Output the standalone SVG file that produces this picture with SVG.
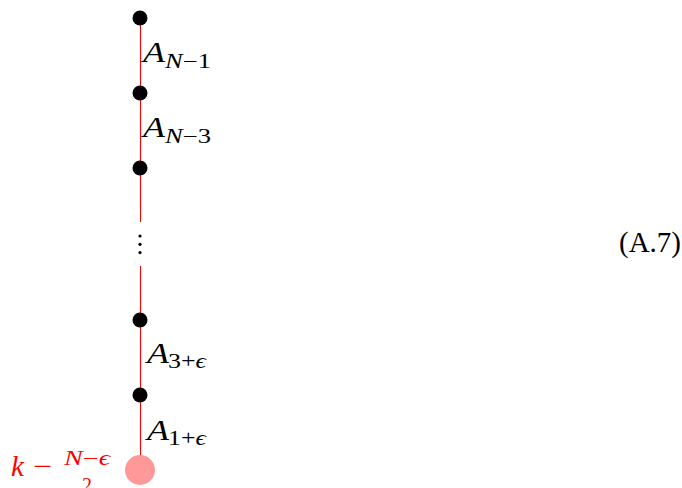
<svg xmlns="http://www.w3.org/2000/svg" width="682" height="488" viewBox="0 0 682 488" font-family="'Liberation Serif', 'Times New Roman', Times, serif">
<style>
.edge{stroke:#ff0000;stroke-width:1.1;fill:none}
.node{fill:#000}
text{font-family:"Liberation Serif","Times New Roman",Times,serif;fill:#000}
.big{font-size:29px}
.sub{font-size:20px}
.it{font-style:italic}
.red{fill:#ff0000}
</style>
<rect width="682" height="488" fill="#fff"/>
<g id="connectors">
<line class="edge" x1="140.5" y1="18" x2="140.5" y2="222"/>
<line class="edge" x1="140.5" y1="266" x2="140.5" y2="470"/>
</g>
<g id="n1"><circle class="node" cx="140" cy="18" r="7.5"/></g>
<g id="n2"><circle class="node" cx="140" cy="93" r="7.5"/></g>
<g id="n3"><circle class="node" cx="140" cy="168" r="7.5"/></g>
<g id="dots">
<circle class="node" cx="140" cy="236" r="1.6"/>
<circle class="node" cx="140" cy="244.3" r="1.6"/>
<circle class="node" cx="140" cy="252.6" r="1.6"/>
</g>
<g id="n4"><circle class="node" cx="140" cy="320" r="7.5"/></g>
<g id="n5"><circle class="node" cx="140" cy="395" r="7.5"/></g>
<g id="root">
<circle cx="140" cy="470" r="15" fill="#ff9999"/>
<text class="big red it" x="11" y="476">k</text>
<text class="big red" x="33" y="476" textLength="19" lengthAdjust="spacingAndGlyphs">−</text>
<text class="sub red it" x="64" y="465" textLength="46" lengthAdjust="spacingAndGlyphs">N<tspan font-style="normal">−</tspan>ϵ</text>
<text class="sub red" x="82" y="492">2</text>
</g>
<g id="labels">
<text class="big it" x="143" y="62" textLength="22" lengthAdjust="spacingAndGlyphs">A</text><text class="sub it" x="165" y="68" textLength="46" lengthAdjust="spacingAndGlyphs">N<tspan font-style="normal">−1</tspan></text>
<text class="big it" x="143" y="137" textLength="22" lengthAdjust="spacingAndGlyphs">A</text><text class="sub it" x="165" y="143" textLength="46" lengthAdjust="spacingAndGlyphs">N<tspan font-style="normal">−3</tspan></text>
<text class="big it" x="147" y="363" textLength="22" lengthAdjust="spacingAndGlyphs">A</text><text class="sub" x="168" y="368" textLength="38" lengthAdjust="spacingAndGlyphs">3+<tspan font-style="italic">ϵ</tspan></text>
<text class="big it" x="147" y="440" textLength="22" lengthAdjust="spacingAndGlyphs">A</text><text class="sub" x="168" y="445" textLength="38" lengthAdjust="spacingAndGlyphs">1+<tspan font-style="italic">ϵ</tspan></text>
<text class="big" x="619" y="252" textLength="62" lengthAdjust="spacingAndGlyphs">(A.7)</text>
</g>
</svg>
